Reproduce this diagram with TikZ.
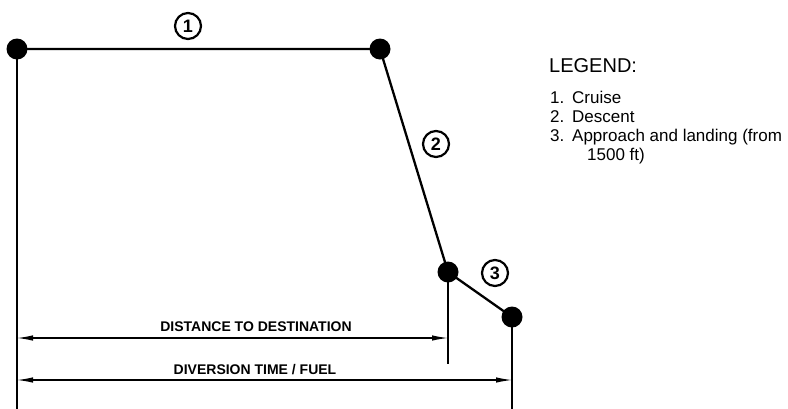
\documentclass[tikz,border=0pt]{standalone}
\usepackage{fontspec}
\setmainfont{Liberation Sans}
\usetikzlibrary{arrows.meta}
\begin{document}
\begin{tikzpicture}[x=1pt,y=-1pt,
  dot/.style={circle,fill=black,minimum size=21pt,inner sep=0pt},
  seg/.style={line width=2.3pt},
  dim/.style={line width=1.2pt,{Latex[length=16pt,width=5.5pt]}-{Latex[length=16pt,width=5.5pt]}},
  circnum/.style={circle,draw,line width=2.2pt,minimum size=26pt,inner sep=0pt,font=\fontsize{18}{18}\selectfont\bfseries},
  dimlabel/.style={font=\fontsize{14}{14}\selectfont\bfseries,inner sep=0pt},
  legitem/.style={font=\fontsize{17}{17}\selectfont,anchor=base west,inner sep=0pt}]
\useasboundingbox (0,0) rectangle (788,408);
\node[dot] (p1) at (17,49) {};
\node[dot] (p2) at (380,49) {};
\node[dot] (p3) at (448,272) {};
\node[dot] (p4) at (512,317) {};
\coordinate (b1) at (17,410);
\coordinate (b3) at (448,364);
\coordinate (b4) at (512,410);
\draw[seg] (p1.center) -- (p2.center) -- (p3.center) -- (p4.center);
\draw[seg] (p1.center) -- (b1);
\draw[seg] (p3.center) -- (b3);
\draw[seg] (p4.center) -- (b4);
\coordinate (d1l) at (17,338);
\coordinate (d1r) at (448,338);
\coordinate (d2l) at (17,380);
\coordinate (d2r) at (512,380);
\draw[dim] (d1l) -- (d1r);
\draw[dim] (d2l) -- (d2r);
\node[dimlabel] (t1) at (256,327) {DISTANCE TO DESTINATION};
\node[dimlabel] (t2) at (255,370) {DIVERSION TIME / FUEL};
\node[circnum] (c1) at (188,26) {1};
\node[circnum] (c2) at (436,144) {2};
\node[circnum] (c3) at (495,273) {3};
\node[font=\fontsize{20}{20}\selectfont,anchor=base west,inner sep=0pt] (leg) at (549,72) {LEGEND:};
\node[legitem] (l1) at (550,103) {1.};
\node[legitem] (l1t) at (572,103) {Cruise};
\node[legitem] (l2) at (550,122) {2.};
\node[legitem] (l2t) at (572,122) {Descent};
\node[legitem] (l3) at (550,141) {3.};
\node[legitem] (l3t) at (572,141) {Approach and landing (from};
\node[legitem] (l3u) at (587,160) {1500 ft)};
\end{tikzpicture}
\end{document}
